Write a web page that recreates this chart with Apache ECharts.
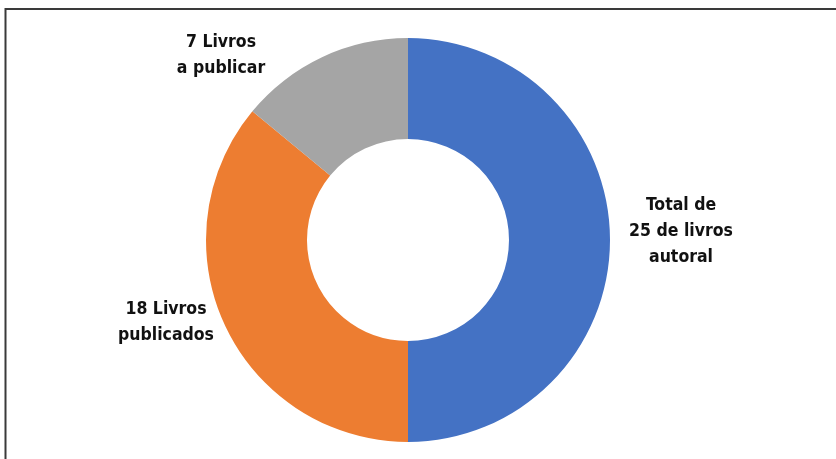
<!DOCTYPE html>
<html>
<head>
<meta charset="utf-8">
<script src="https://cdn.jsdelivr.net/npm/echarts@6/dist/echarts.min.js"></script>
<style>
html,body{margin:0;padding:0;background:#fff;}
#c{width:836px;height:459px;}
</style>
</head>
<body>
<div id="c"></div>
<script>
var categories = ['Total de\n25 de livros\nautoral', '18 Livros\npublicados', '7 Livros\na publicar'];
var values = [25, 18, 7];
var colors = ['#4472C4', '#ED7D31', '#A5A5A5'];

var labelPos = [
  {x: 681, y: 231},
  {x: 166, y: 322},
  {x: 221, y: 55}
];

var chart = echarts.init(document.getElementById('c'), null, {renderer: 'canvas'});
chart.setOption({
  animation: false,
  graphic: [
    {type: 'polyline', shape: {points: [[5.5, 459], [5.5, 9], [836, 9]]},
     style: {stroke: '#3a3a3a', lineWidth: 2, fill: null}}
  ],
  series: [{
    type: 'pie',
    center: [408, 240],
    radius: [101, 202],
    startAngle: 90,
    clockwise: true,
    silent: true,
    itemStyle: {borderWidth: 0},
    label: {
      show: true,
      position: 'outside',
      formatter: '{b}',
      color: '#111',
      fontSize: 17.5,
      fontWeight: 'bold',
      fontFamily: "'Liberation Sans Narrow', 'DejaVu Sans Condensed', 'Roboto', sans-serif",
      lineHeight: 26,
      align: 'center'
    },
    labelLine: {show: false},
    labelLayout: function (p) {
      var pos = labelPos[p.dataIndex];
      return {x: pos.x, y: pos.y, align: 'center', verticalAlign: 'middle'};
    },
    data: categories.map(function (c, i) {
      return {name: c, value: values[i], itemStyle: {color: colors[i]}};
    })
  }]
});
</script>
</body>
</html>
